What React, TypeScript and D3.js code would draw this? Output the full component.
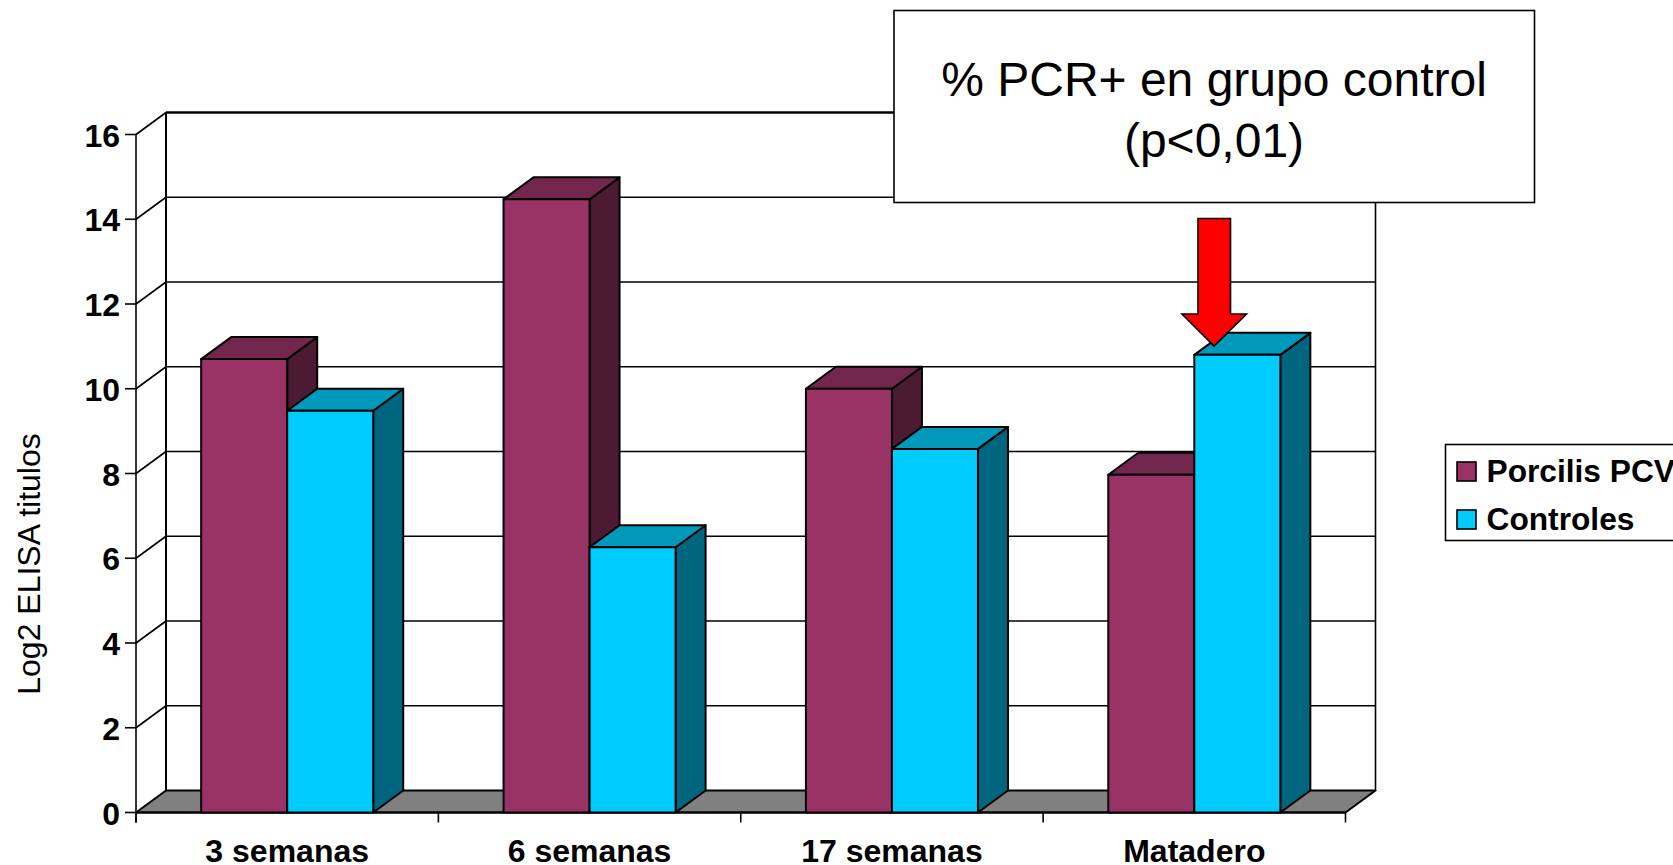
import { scaleBand, scaleLinear } from "d3";

const categories = ["3 semanas", "6 semanas", "17 semanas", "Matadero"];
const seriesNames = ["Porcilis PCV", "Controles"];
const porcilisValues = [10.7, 14.47, 10.0, 7.97];
const controlesValues = [9.48, 6.26, 8.58, 10.8];
const yTicks = [0, 2, 4, 6, 8, 10, 12, 14, 16];

const seriesValues = [porcilisValues, controlesValues];
const faceColors = [
  { front: "#993366", top: "#73264d", side: "#4d1a33" },
  { front: "#00ccff", top: "#0099bb", side: "#006680" },
];

const WIDTH = 1673;
const HEIGHT = 865;
const left = 136;
const right = 1345.5;
const bottom = 812.5;
const top = 134.5;
// offset of the back wall
const dx = 30;
const dy = -22;

const FONT = "'Liberation Sans', Arial, sans-serif";

const y = scaleLinear().domain([0, 16]).range([bottom, top]);
const x0 = scaleBand<string>().domain(categories).range([left, right]).paddingInner(0.431).paddingOuter(0.2155);
const x1 = scaleBand<string>().domain(seriesNames).range([0, x0.bandwidth()]);

function pts(list: number[][]) {
  return list.map((p) => p.join(",")).join(" ");
}

export default function App() {
  const bw = x1.bandwidth();
  const boundaries = [...categories.map((c) => left + categories.indexOf(c) * x0.step()), right];

  return (
    <svg
      width={WIDTH}
      height={HEIGHT}
      style={{ position: "absolute", left: 0, top: 0, display: "block", background: "#fff" }}
      fontFamily={FONT}
    >
      {/* floor */}
      <polygon
        points={pts([[left, bottom], [right, bottom], [right + dx, bottom + dy], [left + dx, bottom + dy]])}
        fill="#808080"
        stroke="#000"
        strokeWidth={2}
        strokeLinejoin="round"
      />

      {/* back wall gridlines and the diagonals */}
      {yTicks.map((t) => (
        <g key={t} stroke="#000">
          {t > 0 && t < 16 && (
            <line x1={left + dx} x2={right + dx} y1={y(t) + dy} y2={y(t) + dy} strokeWidth={1.6} />
          )}
          {t > 0 && <line x1={left} x2={left + dx} y1={y(t)} y2={y(t) + dy} strokeWidth={1.6} />}
          <line x1={left - 11} x2={left} y1={y(t)} y2={y(t)} strokeWidth={1.6} />
        </g>
      ))}
      <line x1={left + dx} x2={right + dx} y1={top + dy} y2={top + dy} stroke="#000" strokeWidth={2.4} />
      <line x1={left + dx} x2={left + dx} y1={top + dy} y2={bottom + dy} stroke="#000" strokeWidth={2} />
      <line x1={right + dx} x2={right + dx} y1={top + dy} y2={bottom + dy} stroke="#000" strokeWidth={1.6} />
      <line x1={left} x2={left} y1={top} y2={bottom + 10} stroke="#000" strokeWidth={1.6} />

      {/* x axis */}
      <line x1={left} x2={right} y1={bottom} y2={bottom} stroke="#000" strokeWidth={2} />
      {boundaries.map((b) => (
        <line key={b} x1={b} x2={b} y1={bottom} y2={bottom + 10} stroke="#000" strokeWidth={1.6} />
      ))}

      {/* bars */}
      {categories.map((c, i) => (
        <g key={c} stroke="#000" strokeWidth={2} strokeLinejoin="round">
          {seriesNames.map((s, j) => {
            const v = seriesValues[j][i];
            const xa = (x0(c) as number) + (x1(s) as number);
            const xb = xa + bw;
            const yv = y(v);
            return (
              <g key={s}>
                <polygon
                  points={pts([[xb, yv], [xb + dx, yv + dy], [xb + dx, bottom + dy], [xb, bottom]])}
                  fill={faceColors[j].side}
                />
                <polygon
                  points={pts([[xa, yv], [xa + dx, yv + dy], [xb + dx, yv + dy], [xb, yv]])}
                  fill={faceColors[j].top}
                />
                <rect x={xa} y={yv} width={bw} height={bottom - yv} fill={faceColors[j].front} />
              </g>
            );
          })}
        </g>
      ))}

      {/* tick labels */}
      {yTicks.map((t) => (
        <text key={t} x={120} y={y(t) + 12} textAnchor="end" fontSize={32} fontWeight="bold" fill="#000">
          {t}
        </text>
      ))}
      {categories.map((c) => (
        <text
          key={c}
          x={(x0(c) as number) + x0.bandwidth() / 2}
          y={862}
          textAnchor="middle"
          fontSize={32}
          fontWeight="bold"
          fill="#000"
        >
          {c}
        </text>
      ))}

      {/* y title */}
      <text
        transform="translate(40,564) rotate(-90)"
        textAnchor="middle"
        fontSize={32}
        fill="#000"
      >
        Log2 ELISA titulos
      </text>

      {/* legend */}
      <rect x={1445.5} y={444.5} width={240} height={96} fill="#fff" stroke="#000" strokeWidth={1.6} />
      {seriesNames.map((s, j) => (
        <g key={s}>
          <rect x={1457} y={462 + j * 48} width={19} height={19} fill={faceColors[j].front} stroke="#000" strokeWidth={1.6} />
          <text x={1486.5} y={482 + j * 48} fontSize={31.7} fontWeight="bold" fill="#000">
            {s}
          </text>
        </g>
      ))}

      {/* callout */}
      <rect x={894} y={10.5} width={640.5} height={192} fill="#fff" stroke="#000" strokeWidth={1.6} />
      <text x={1214} y={96} textAnchor="middle" fontSize={48} fill="#000">
        % PCR+ en grupo control
      </text>
      <text x={1214} y={157} textAnchor="middle" fontSize={48} fill="#000">
        (p&lt;0,01)
      </text>

      {/* arrow */}
      <polygon
        points={pts([[1198, 218.5], [1230.5, 218.5], [1230.5, 314], [1246.5, 314], [1214, 346], [1182, 314], [1198, 314]])}
        fill="#ff0000"
        stroke="#000"
        strokeWidth={1.6}
      />
    </svg>
  );
}
